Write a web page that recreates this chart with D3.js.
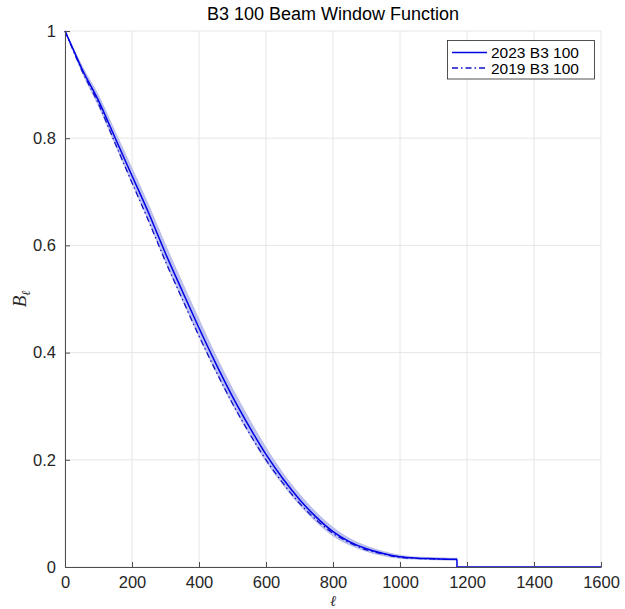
<!DOCTYPE html>
<html>
<head>
<meta charset="utf-8">
<script src="https://cdn.jsdelivr.net/npm/d3@7"></script>
<style>
  body { margin: 0; background: #fff; }
  svg { font-family: "Liberation Sans", Arial, sans-serif; }
</style>
</head>
<body>
<svg id="chart" width="625" height="609"></svg>
<script>
// multipole values
var ells = [0, 25, 50, 100, 150, 200, 250, 300, 350, 400, 450, 500, 550, 600, 650, 700, 750, 800, 850, 900, 950, 1000, 1050, 1100, 1150, 1170, 1171, 1600];
// 2023 B3 100 window
var b2023 = [1, 0.965, 0.93, 0.87, 0.80, 0.73, 0.66, 0.585, 0.515, 0.446, 0.38, 0.318, 0.262, 0.21, 0.165, 0.126, 0.093, 0.066, 0.047, 0.034, 0.025, 0.019, 0.0165, 0.0155, 0.0145, 0.0143, 0, 0];
// 2019 B3 100 window
var b2019 = [1, 0.963, 0.927, 0.864, 0.79, 0.717, 0.645, 0.57, 0.50, 0.431, 0.366, 0.305, 0.25, 0.2, 0.157, 0.119, 0.088, 0.063, 0.045, 0.032, 0.024, 0.018, 0.016, 0.015, 0.0143, 0.0142, 0, 0];
// half-width of the 2023 error band
var bandHalf = [0, 0.003, 0.006, 0.01, 0.012, 0.014, 0.015, 0.016, 0.016, 0.016, 0.015, 0.015, 0.014, 0.013, 0.011, 0.01, 0.009, 0.008, 0.006, 0.005, 0.004, 0.003, 0.002, 0.002, 0.002, 0.002, 0, 0];

var xTicks = d3.range(0, 1601, 200);
var yTicks = [0, 0.2, 0.4, 0.6, 0.8, 1];

var svg = d3.select('#chart');
var pL = 65, pR = 601, pT = 31, pB = 567;

var x = d3.scaleLinear().domain([0, 1600]).range([pL, pR]);
var y = d3.scaleLinear().domain([0, 1]).range([pB, pT]);

// grid
svg.append('g').selectAll('line')
  .data(xTicks).enter().append('line')
  .attr('x1', d => x(d)).attr('x2', d => x(d))
  .attr('y1', pT).attr('y2', pB)
  .attr('stroke', '#e6e6e6').attr('stroke-width', 1);
svg.append('g').selectAll('line')
  .data(yTicks).enter().append('line')
  .attr('x1', pL).attr('x2', pR)
  .attr('y1', d => y(d)).attr('y2', d => y(d))
  .attr('stroke', '#e6e6e6').attr('stroke-width', 1);

var pts = ells.map(function(l, i){
  return {l: l, a: b2023[i], b: b2019[i], h: bandHalf[i]};
});
var seg = pts.filter(d => d.l <= 1170);
var tail = pts.filter(d => d.l >= 1170);

svg.append('path')
  .datum(seg)
  .attr('d', d3.area().curve(d3.curveMonotoneX)
    .x(d => x(d.l))
    .y0(d => y(Math.max(0, d.a - d.h)))
    .y1(d => y(d.a + d.h)))
  .attr('fill', '#bcc0f2')
  .attr('stroke', '#a9aed8')
  .attr('stroke-width', 0.6);

var line2023 = d3.line().curve(d3.curveMonotoneX).x(d => x(d.l)).y(d => y(d.a));
var line2019 = d3.line().curve(d3.curveMonotoneX).x(d => x(d.l)).y(d => y(d.b));

svg.append('path').datum(seg)
  .attr('d', line2019)
  .attr('fill', 'none').attr('stroke', '#1010c8')
  .attr('stroke-width', 1.3)
  .attr('stroke-dasharray', '6,3,1.5,3');

// 2023 curve, then the step down to zero
svg.append('path').datum(seg)
  .attr('d', line2023)
  .attr('fill', 'none').attr('stroke', '#0000e6').attr('stroke-width', 1.5);
svg.append('path').datum(tail)
  .attr('d', d3.line().curve(d3.curveStepBefore).x(d => x(d.l)).y(d => y(d.a)))
  .attr('fill', 'none').attr('stroke', '#0000e6').attr('stroke-width', 1.5);

// axes
var xAxis = svg.append('g').attr('transform', 'translate(0,' + pB + ')')
  .call(d3.axisBottom(x).tickValues(xTicks).tickSizeInner(-5).tickSizeOuter(0).tickPadding(9).tickFormat(d3.format('d')));
var yAxis = svg.append('g').attr('transform', 'translate(' + pL + ',0)')
  .call(d3.axisLeft(y).tickValues(yTicks).tickSizeInner(-5).tickSizeOuter(0).tickPadding(9).tickFormat(d => d === 0 || d === 1 ? String(d) : d.toFixed(1)));

[xAxis, yAxis].forEach(function(g){
  g.select('.domain').attr('stroke', '#4d4d4d').attr('stroke-width', 1);
  g.selectAll('.tick line').attr('stroke', '#4d4d4d');
  g.selectAll('.tick text').attr('fill', '#262626')
    .style('font-size', '16.5px').style('font-family', '"Liberation Sans", Arial, sans-serif');
});

// title and labels
svg.append('text')
  .attr('x', (pL + pR) / 2).attr('y', 20)
  .attr('text-anchor', 'middle')
  .attr('font-size', 18).attr('fill', '#000')
  .text('B3 100 Beam Window Function');

svg.append('text')
  .attr('x', (pL + pR) / 2).attr('y', 606)
  .attr('text-anchor', 'middle')
  .attr('font-family', '"DejaVu Serif", "Liberation Serif", serif')
  .attr('font-style', 'italic').attr('font-size', 15).attr('fill', '#262626')
  .text('ℓ');

var yl = svg.append('text')
  .attr('transform', 'translate(26,' + ((pT + pB) / 2) + ') rotate(-90)')
  .attr('text-anchor', 'middle')
  .attr('font-family', '"Liberation Serif", "DejaVu Serif", serif')
  .attr('font-style', 'italic').attr('font-size', 19).attr('fill', '#262626');
yl.append('tspan').text('B');
yl.append('tspan').attr('font-size', 12).attr('dy', 4).text('ℓ');

// legend
var lg = svg.append('g');
lg.append('rect')
  .attr('x', 447.5).attr('y', 40.5).attr('width', 147).attr('height', 38.5)
  .attr('fill', '#fff').attr('stroke', '#262626').attr('stroke-width', 0.8);
var legendItems = [
  {label: '2023 B3 100', dash: null, color: '#0000e6'},
  {label: '2019 B3 100', dash: '6,3,1.5,3', color: '#1010c8'}
];
legendItems.forEach(function(it, i){
  var yy = 52.5 + i * 15.5;
  lg.append('line')
    .attr('x1', 452).attr('x2', 487).attr('y1', yy).attr('y2', yy)
    .attr('stroke', it.color).attr('stroke-width', 1.4)
    .attr('stroke-dasharray', it.dash);
  lg.append('text')
    .attr('x', 491).attr('y', yy + 5.5)
    .attr('font-size', 15.5).attr('fill', '#000')
    .text(it.label);
});
</script>
</body>
</html>
